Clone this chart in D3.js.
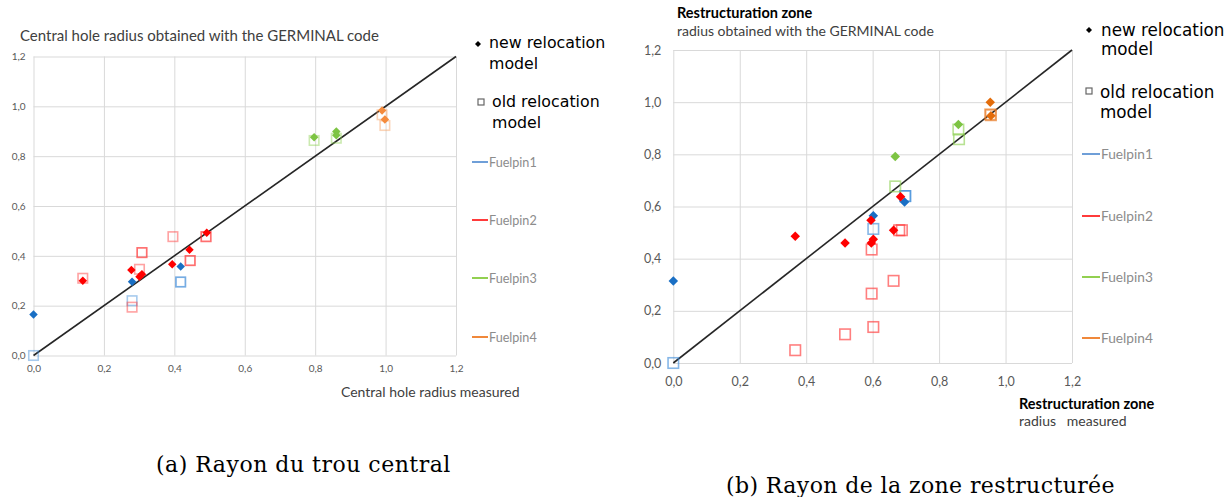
<!DOCTYPE html>
<meta charset="utf-8">
<style>

body { margin: 0; background: #fff; }
svg { display: block; }

.grid line { stroke: #d9d9d9; stroke-width: 1px; }
.axis path.domain { display: none; }
.axis text { fill: #595959; font-family: Lato, "Open Sans", sans-serif; }
.ref { stroke: #262626; stroke-width: 1.6px; }
.old { fill: none; stroke-width: 1.6px; }
.title { font-family: Lato, "Open Sans", sans-serif; fill: #404040; }
.key { font-family: "DejaVu Sans", sans-serif; fill: #000; }
.pin { font-family: Lato, "Open Sans", sans-serif; fill: #8c8c8c; }
.caption { font-family: "DejaVu Serif", serif; fill: #000; }

</style>
<svg width="1231" height="497"></svg>
<script src="https://cdn.jsdelivr.net/npm/d3@7/dist/d3.min.js"></script>
<script>

var ticks = [0, 0.2, 0.4, 0.6, 0.8, 1.0, 1.2];
var pins = ["Fuelpin1", "Fuelpin2", "Fuelpin3", "Fuelpin4"];

// [fuelpin index, measured, obtained with GERMINAL]
var holeNew = [
  [0, 0.000, 0.165], [0, 0.280, 0.296], [0, 0.418, 0.357],
  [1, 0.140, 0.300], [1, 0.278, 0.343], [1, 0.301, 0.316], [1, 0.308, 0.326],
  [1, 0.394, 0.366], [1, 0.443, 0.424], [1, 0.492, 0.493],
  [2, 0.797, 0.876], [2, 0.860, 0.899], [2, 0.860, 0.884],
  [3, 0.990, 0.983], [3, 0.998, 0.947]
];
var holeOld = [
  [0, 0.000, 0.000], [0, 0.280, 0.220], [0, 0.418, 0.295], [0, 0.418, 0.295],
  [1, 0.140, 0.310], [1, 0.280, 0.194], [1, 0.301, 0.346], [1, 0.308, 0.413],
  [1, 0.308, 0.413], [1, 0.396, 0.477], [1, 0.445, 0.381], [1, 0.445, 0.381],
  [1, 0.490, 0.477], [1, 0.490, 0.477],
  [2, 0.797, 0.863], [2, 0.860, 0.872],
  [3, 0.990, 0.966], [3, 0.998, 0.923]
];
var zoneNew = [
  [0, 0.000, 0.314], [0, 0.602, 0.565], [0, 0.696, 0.617],
  [1, 0.367, 0.486], [1, 0.517, 0.460], [1, 0.595, 0.547], [1, 0.596, 0.460],
  [1, 0.602, 0.474], [1, 0.663, 0.509], [1, 0.684, 0.637],
  [2, 0.668, 0.792], [2, 0.858, 0.914],
  [3, 0.954, 1.000], [3, 0.956, 0.948]
];
var zoneOld = [
  [0, 0.000, 0.000], [0, 0.602, 0.514], [0, 0.698, 0.640], [0, 0.698, 0.640],
  [1, 0.367, 0.049], [1, 0.517, 0.110], [1, 0.597, 0.266], [1, 0.597, 0.435],
  [1, 0.602, 0.138], [1, 0.663, 0.315], [1, 0.680, 0.509], [1, 0.688, 0.509],
  [2, 0.668, 0.677], [2, 0.858, 0.895], [2, 0.860, 0.858],
  [3, 0.954, 0.953], [3, 0.956, 0.950]
];

var svg = d3.select("svg");
var fmt = function(d) { return d3.format(".1f")(d).replace(".", ","); };
var lineColors = ["#6f9fd8", "#ff3b3b", "#92d050", "#f0883a"];

drawChart({
  left: 33.5, right: 456, top: 56.5, bottom: 355.5,
  tickSize: 10, yPad: 8, xPad: 16,
  newData: holeNew, oldData: holeOld,
  dia: 8.5, sq: 9.5,
  newColors: ["#1a6fc4", "#ff0000", "#7dc443", "#f58b3c"],
  oldColors: ["#3b8ad8", "#ff3030", "#8cd050", "#f7a060"],
  oldOpacity: 0.45,
  titles: [{ x: 20, y: 41, text: "Central hole radius obtained with the GERMINAL code", size: 15 }],
  xTitles: [{ x: 341, y: 397, text: "Central hole radius measured", size: 14 }],
  key: { x: 489, ox: 3, rows: [48, 69, 107, 128], dx: 478, dy: 44, sx: 481, sy: 102, size: 15.8 },
  pinKey: { x0: 472, x1: 488, ys: [162, 220, 278, 337], size: 12.6 },
  caption: { x: 156, y: 472, text: "(a) Rayon du trou central", size: 22, spacing: 0.5 }
});

drawChart({
  left: 673.3, right: 1072, top: 50, bottom: 363,
  tickSize: 12.5, yPad: 12, xPad: 23,
  newData: zoneNew, oldData: zoneOld,
  dia: 9.5, sq: 10.5,
  newColors: ["#1a6fc4", "#ff0000", "#7dc443", "#e36c0a"],
  oldColors: ["#3b8ad8", "#ff3030", "#8cd050", "#e87a25"],
  oldOpacity: 0.62,
  titles: [
    { x: 677, y: 18, text: "Restructuration zone", size: 14.5, bold: true },
    { x: 677, y: 36, text: "radius obtained with the GERMINAL code", size: 14 }
  ],
  xTitles: [
    { x: 1019, y: 409, text: "Restructuration zone", size: 14.5, bold: true },
    { x: 1019, y: 426, text: "radius   measured", size: 14 }
  ],
  key: { x: 1101, ox: -1, rows: [36, 55, 98, 118], dx: 1089, dy: 30, sx: 1089, sy: 91, size: 16.8 },
  pinKey: { x0: 1082, x1: 1100, ys: [154, 216, 277, 338], size: 13.7 },
  caption: { x: 726, y: 493, text: "(b) Rayon de la zone restructurée", size: 22, spacing: 0.4 }
});

function drawChart(c) {
  var x = d3.scaleLinear().domain([0, 1.2]).range([c.left, c.right]),
      y = d3.scaleLinear().domain([0, 1.2]).range([c.bottom, c.top]);

  var g = svg.append("g");

  // gridlines
  g.append("g").attr("class", "grid")
      .attr("transform", "translate(0," + c.bottom + ")")
      .call(d3.axisBottom(x).tickValues(ticks).tickSize(-(c.bottom - c.top)).tickFormat(""))
      .call(function(s) { s.select(".domain").remove(); });
  g.append("g").attr("class", "grid")
      .attr("transform", "translate(" + c.left + ",0)")
      .call(d3.axisLeft(y).tickValues(ticks).tickSize(-(c.right - c.left)).tickFormat(""))
      .call(function(s) { s.select(".domain").remove(); });

  // tick labels
  g.append("g").attr("class", "axis")
      .attr("transform", "translate(0," + c.bottom + ")")
      .call(d3.axisBottom(x).tickValues(ticks).tickSize(0).tickPadding(c.xPad - c.tickSize * 0.7).tickFormat(fmt))
      .selectAll("text").style("font-size", c.tickSize + "px");
  g.append("g").attr("class", "axis")
      .attr("transform", "translate(" + c.left + ",0)")
      .call(d3.axisLeft(y).tickValues(ticks).tickSize(0).tickPadding(c.yPad).tickFormat(fmt))
      .selectAll("text").style("font-size", c.tickSize + "px");

  // y = x reference line
  g.append("line").attr("class", "ref")
      .attr("x1", x(0)).attr("y1", y(0))
      .attr("x2", x(1.2)).attr("y2", y(1.2));

  // old relocation model: open squares
  g.selectAll("rect.old")
    .data(c.oldData)
    .enter().append("rect")
      .attr("class", "old")
      .attr("x", function(d) { return x(d[1]) - c.sq / 2; })
      .attr("y", function(d) { return y(d[2]) - c.sq / 2; })
      .attr("width", c.sq).attr("height", c.sq)
      .style("stroke", function(d) { return c.oldColors[d[0]]; })
      .style("stroke-opacity", c.oldOpacity);

  // new relocation model: diamonds
  var diamond = d3.symbol().type(d3.symbolSquare).size(c.dia * c.dia / 2);
  g.selectAll("path.new")
    .data(c.newData)
    .enter().append("path")
      .attr("class", "new")
      .attr("d", diamond)
      .attr("transform", function(d) { return "translate(" + x(d[1]) + "," + y(d[2]) + ") rotate(45)"; })
      .style("fill", function(d) { return c.newColors[d[0]]; });

  // titles
  c.titles.concat(c.xTitles).forEach(function(t) {
    g.append("text").attr("class", "title")
        .attr("x", t.x).attr("y", t.y)
        .style("font-size", t.size + "px")
        .style("font-weight", t.bold ? "bold" : null)
        .style("fill", t.bold ? "#000" : null)
        .style("white-space", "pre")
        .text(t.text);
  });

  // marker key
  var k = c.key;
  g.append("path")
      .attr("d", d3.symbol().type(d3.symbolSquare).size(18))
      .attr("transform", "translate(" + k.dx + "," + k.dy + ") rotate(45)")
      .style("fill", "#000");
  g.append("rect")
      .attr("x", k.sx - 3).attr("y", k.sy - 3).attr("width", 6).attr("height", 6)
      .style("fill", "none").style("stroke", "#666").style("stroke-width", 1.2);
  ["new relocation", "model", "old relocation", "model"].forEach(function(s, i) {
    g.append("text").attr("class", "key")
        .attr("x", k.x + (i > 1 ? k.ox : 0)).attr("y", k.rows[i])
        .style("font-size", k.size + "px")
        .text(s);
  });

  // fuelpin key
  var p = c.pinKey;
  pins.forEach(function(name, i) {
    g.append("line")
        .attr("x1", p.x0).attr("x2", p.x1)
        .attr("y1", p.ys[i]).attr("y2", p.ys[i])
        .style("stroke", lineColors[i]).style("stroke-width", 2);
    g.append("text").attr("class", "pin")
        .attr("x", p.x1 + 1).attr("y", p.ys[i] + 4.5)
        .style("font-size", p.size + "px")
        .text(name);
  });

  // caption
  g.append("text").attr("class", "caption")
      .attr("x", c.caption.x).attr("y", c.caption.y)
      .style("font-size", c.caption.size + "px")
      .style("letter-spacing", c.caption.spacing + "px")
      .text(c.caption.text);
}

</script>
